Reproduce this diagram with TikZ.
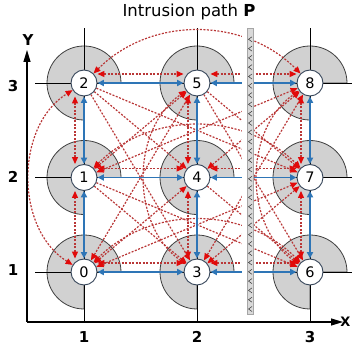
\documentclass[tikz,border=0pt]{standalone}
\usepackage{fontspec}
\setmainfont{DejaVu Sans}
\usetikzlibrary{positioning,arrows.meta,backgrounds}
\definecolor{linkblue}{RGB}{46,117,182}
\definecolor{hopred}{RGB}{185,55,55}
\definecolor{tipred}{RGB}{225,10,10}
\definecolor{rim}{RGB}{55,70,90}
\tikzset{
  sensor/.style={circle,draw=rim,fill=white,line width=0.9pt,minimum size=26pt,inner sep=0pt,
    font=\fontsize{14.5}{16}\selectfont},
  sector/.style={fill=black!18,draw=black!75,line width=0.8pt},
  gridline/.style={draw=black,line width=0.7pt},
  btip/.tip={Triangle[length=6.5pt,width=6pt]},
  rtip/.tip={Triangle[length=7pt,width=6pt,color=tipred]},
  link/.style={linkblue,line width=1.7pt,btip-btip},
  hop/.style={hopred,line width=1.2pt,dash pattern=on 2pt off 1.5pt},
  axis/.style={black,line width=1.1pt,-{Triangle[length=12pt,width=7pt]}},
  ticklabel/.style={font=\fontsize{15}{16}\bfseries\selectfont},
  strip/.style={fill=black!15,draw=black!35,line width=0.5pt},
  chevron/.style={black!80,line width=0.5pt},
}
\begin{document}
\begin{tikzpicture}[x=1pt,y=1pt,node distance=94.5pt and 113pt,on grid]
  \useasboundingbox (0,0) rectangle (354,354);

  \node[sensor] (n0) at (84,82) {0};
  \node[sensor] (n1) [above=of n0] {1};
  \node[sensor] (n2) [above=of n1] {2};
  \node[sensor] (n3) [right=of n0] {3};
  \node[sensor] (n4) [above=of n3] {4};
  \node[sensor] (n5) [above=of n4] {5};
  \node[sensor] (n6) [right=of n3] {6};
  \node[sensor] (n7) [above=of n6] {7};
  \node[sensor] (n8) [above=of n7] {8};

  \coordinate (origin) at (27,32);
  \coordinate (ytip) at (27,304);
  \coordinate (xtip) at (343,32);

  \begin{scope}[on background layer]
    \foreach \s in {0,...,8}
      \filldraw[sector] (n\s.center) -- ++(37,0) arc[start angle=0,end angle=270,radius=37] -- cycle;
    \foreach \c in {0,3,6}
      \draw[gridline] (n\c |- origin) -- (n\c |- 0,326);
    \foreach \r in {0,1,2}
      \draw[gridline] (35,0 |- n\r) -- (352,0 |- n\r);

    \foreach \a/\b in {0/3,3/6,1/4,4/7,2/5,5/8}
      \draw[hop,rtip-rtip] ([yshift=9pt]n\a.east) -- ([yshift=9pt]n\b.west);
    \foreach \a/\b in {0/1,1/2,3/4,4/5,6/7,7/8}
      \draw[hop,rtip-rtip] ([xshift=-9pt]n\a.north) -- ([xshift=-9pt]n\b.south);

    \path[hop]
      (n0) edge[rtip-rtip] (n4)
      (n1) edge[rtip-rtip] (n5)
      (n3) edge[rtip-rtip] (n7)
      (n4) edge[rtip-rtip] (n8)
      (n0) edge[rtip-rtip] (n5)
      (n0) edge[rtip-rtip] (n7)
      (n1) edge[rtip-rtip] (n8)
      (n3) edge[rtip-rtip] (n8)
      (n0) edge[rtip-rtip,bend left=58] (n2)
      (n3) edge[rtip-rtip,bend left=55] (n5)
      (n6) edge[rtip-rtip,bend left=55] (n8)
      (n0) edge[rtip-rtip,bend left=45] (n6)
      (n1) edge[rtip-rtip,bend left=45] (n7)
      (n2) edge[rtip-rtip,bend left=45] (n8)
      (n1) edge[-rtip] (n3)
      (n2) edge[-rtip] (n4)
      (n4) edge[-rtip] (n6)
      (n5) edge[-rtip] (n7)
      (n1) edge[-rtip] (n6)
      (n2) edge[-rtip] (n3)
      (n2) edge[-rtip] (n7)
      (n5) edge[-rtip] (n6);

    \foreach \a/\b in {0/3,3/6,1/4,4/7,2/5,5/8,0/1,1/2,3/4,4/5,6/7,7/8}
      \draw[link] (n\a) -- (n\b);
  \end{scope}

  \fill[white] (242,40) rectangle (247,326);
  \filldraw[strip] (247,40) rectangle (253,326);
  \foreach \yy in {45,54.3,...,322}
    \draw[chevron] (252,\yy+2.5) -- (248.5,\yy) -- (252,\yy-2.5);

  \draw[axis] (origin) -- (ytip);
  \draw[axis] (origin) -- (xtip);
  \node[ticklabel] (ylab) at (28,314) {Y};
  \node[ticklabel,anchor=east,font=\fontsize{13}{14}\bfseries\selectfont] (xlab) at (354,32) {X};
  \node[ticklabel] (x1) at (84,17) {1};
  \node[ticklabel] (x2) at (197,17) {2};
  \node[ticklabel] (x3) at (310,17) {3};
  \node[ticklabel] (y1) at (13,84) {1};
  \node[ticklabel] (y2) at (13,177) {2};
  \node[ticklabel] (y3) at (13,268) {3};
  \node[font=\fontsize{16.5}{18}\selectfont] (title) at (189,342) {Intrusion path \textbf{P}};
\end{tikzpicture}
\end{document}
